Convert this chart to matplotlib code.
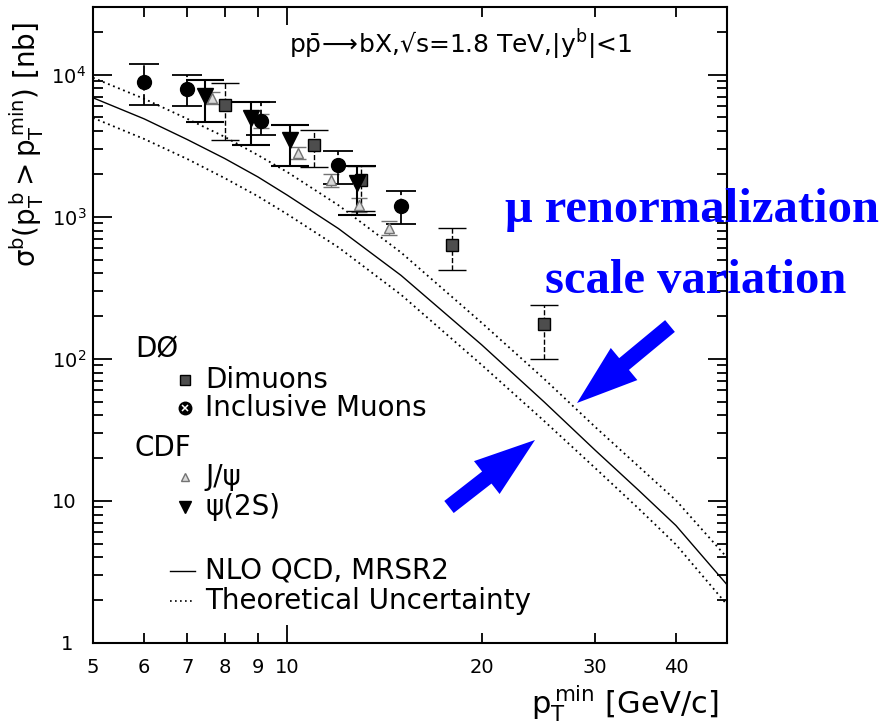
import matplotlib
matplotlib.use("Agg")
import matplotlib.pyplot as plt
from matplotlib.ticker import FixedLocator, FixedFormatter, NullFormatter
from matplotlib.patches import FancyArrowPatch

plt.rcParams['font.family'] = ['DejaVu Sans']
plt.rcParams['mathtext.fontset'] = 'dejavusans'

# D0 inclusive muons
mu_pt = [6.0, 7.0, 9.1, 12.0, 15.0]
mu_xs = [8900, 7960, 4700, 2310, 1190]
mu_hi = [11960, 10000, 6400, 2900, 1510]
mu_lo = [6140, 6040, 3770, 1700, 885]

# D0 dimuons
dimu_pt = [8.0, 11.0, 13.0, 18.0, 25.0]
dimu_xs = [6140, 3200, 1810, 629, 177]
dimu_hi = [8780, 4080, 2275, 829, 241]
dimu_lo = [3470, 2230, 1100, 419, 100]

# CDF J/psi
jpsi_pt = [7.65, 9.1, 10.4, 11.7, 12.9, 14.35]
jpsi_xs = [6900, 4730, 2810, 1810, 1206, 829]
jpsi_hi = [7600, 5300, 3100, 2000, 1350, 930]
jpsi_lo = [6200, 4200, 2550, 1620, 1080, 740]

# CDF psi(2S)
psi_pt = [7.45, 8.8, 10.1, 12.8]
psi_xs = [7100, 4970, 3470, 1725]
psi_hi = [9220, 6450, 4430, 2275]
psi_lo = [4650, 3200, 2275, 1025]

# NLO QCD (MRSR2) and the scale variation band
th_pt = [5, 6, 7, 8, 9, 10, 12, 15, 20, 25, 30, 35, 40, 48]
th_central = [6880, 4890, 3495, 2570, 1910, 1419, 826, 387, 125.6, 49.7, 22.7, 11.9, 6.71, 2.57]
th_upper = [9520, 6770, 4890, 3650, 2720, 2063, 1206, 561, 179.6, 72.2, 33.1, 17.5, 10.1, 3.99]
th_lower = [4970, 3530, 2550, 1870, 1396, 1042, 609, 283, 90.7, 36.5, 17.0, 8.85, 4.93, 1.86]


def errs(y, hi, lo):
    return [[a - b for a, b in zip(y, lo)], [b - a for a, b in zip(y, hi)]]


fig = plt.figure(figsize=(8.86, 7.23), dpi=100)
ax = fig.add_axes([0.105, 0.1107, 0.7156, 0.8797])
ax.set_xscale('log')
ax.set_yscale('log')
ax.set_xlim(5, 48)
ax.set_ylim(1, 3e4)

dot = (0, (1, 2))
ax.plot(th_pt, th_central, color='black', lw=1.0)
ax.plot(th_pt, th_upper, color='black', lw=1.3, ls=dot)
ax.plot(th_pt, th_lower, color='black', lw=1.3, ls=dot)

# data points
eb = ax.errorbar(jpsi_pt, jpsi_xs, yerr=errs(jpsi_xs, jpsi_hi, jpsi_lo), fmt='^',
                 ms=7, mfc='0.85', mec='0.45', mew=1, ecolor='0.45', elinewidth=1,
                 capsize=6, capthick=1)
eb[2][0].set_linestyle(':')
eb = ax.errorbar(dimu_pt, dimu_xs, yerr=errs(dimu_xs, dimu_hi, dimu_lo), fmt='s',
                 ms=8, mfc='0.3', mec='black', mew=1, ecolor='black', elinewidth=1,
                 capsize=10, capthick=1)
eb[2][0].set_linestyle('--')
eb = ax.errorbar(mu_pt, mu_xs, yerr=errs(mu_xs, mu_hi, mu_lo), fmt='o',
                 ms=10, mfc='black', mec='black', ecolor='black', elinewidth=1.3,
                 capsize=11, capthick=1.3)
eb[2][0].set_linestyle((0, (6, 2)))
ax.plot(mu_pt, mu_xs, 'x', ms=5, mec='white', mew=1.2, ls='none')
ax.errorbar(psi_pt, psi_xs, yerr=errs(psi_xs, psi_hi, psi_lo), fmt='v',
            ms=11, mfc='black', mec='black', ecolor='black', elinewidth=1.5,
            capsize=14, capthick=1.5)

# axes styling
for s in ax.spines.values():
    s.set_linewidth(1.5)
ax.xaxis.set_major_locator(FixedLocator([10]))
ax.xaxis.set_major_formatter(FixedFormatter(['10']))
ax.xaxis.set_minor_locator(FixedLocator([5, 6, 7, 8, 9, 20, 30, 40]))
ax.xaxis.set_minor_formatter(FixedFormatter(['5', '6', '7', '8', '9', '20', '30', '40']))
ax.yaxis.set_major_locator(FixedLocator([1, 10, 100, 1000, 10000]))
ax.yaxis.set_major_formatter(FixedFormatter(['1', '10', r'$\mathregular{10^{2}}$',
                                             r'$\mathregular{10^{3}}$',
                                             r'$\mathregular{10^{4}}$']))
ax.yaxis.set_minor_formatter(NullFormatter())
ax.tick_params(which='both', direction='in', top=True, right=True, labelsize=14, width=1.3)
ax.tick_params(axis='x', which='major', length=13, pad=11)
ax.tick_params(axis='x', which='minor', length=7, pad=11)
ax.tick_params(axis='y', which='major', length=14, pad=5)
ax.tick_params(axis='y', which='minor', length=7)
# superscripts hang past the plain labels, so "1" and "10" sit further left
yt = ax.yaxis.get_major_ticks()
yt[0].set_pad(14)
yt[1].set_pad(12)

ax.text(0.579, 0.94, r'$\mathregular{p\bar{p}\!\longrightarrow\!}$bX,√s=1.8 TeV,|y$^{\mathregular{b}}$|<1',
        transform=ax.transAxes, ha='center', va='center', fontsize=18)

fig.text(0.030, 0.80, r'$\mathregular{\sigma^{b}(p_{T}^{\,b} > p_{T}^{\,min})}$ [nb]',
         rotation=90, ha='center', va='center', fontsize=20)
fig.text(0.705, 0.027, r'$\mathregular{p_{T}^{\,min}}$ [GeV/c]', ha='center',
         va='center', fontsize=22)

# legend drawn by hand
fs = 20
ax.text(0.066, 0.461, 'DØ', transform=ax.transAxes, va='center', fontsize=fs)
ax.plot([0.145], [0.4135], 's', ms=7, mfc='0.3', mec='black', transform=ax.transAxes)
ax.text(0.177, 0.4135, 'Dimuons', transform=ax.transAxes, va='center', fontsize=fs)
ax.plot([0.145], [0.3695], 'o', ms=9, mfc='black', mec='black', transform=ax.transAxes)
ax.plot([0.145], [0.3695], 'x', ms=4, mec='white', mew=1.1, transform=ax.transAxes)
ax.text(0.177, 0.3695, 'Inclusive Muons', transform=ax.transAxes, va='center', fontsize=fs)
ax.text(0.066, 0.3066, 'CDF', transform=ax.transAxes, va='center', fontsize=fs)
ax.plot([0.145], [0.261], '^', ms=6, mfc='0.85', mec='0.45', transform=ax.transAxes)
ax.text(0.177, 0.261, 'J/ψ', transform=ax.transAxes, va='center', fontsize=fs)
ax.plot([0.145], [0.2138], 'v', ms=9, mfc='black', mec='black', transform=ax.transAxes)
ax.text(0.177, 0.2138, 'ψ(2S)', transform=ax.transAxes, va='center', fontsize=fs)
ax.plot([0.121, 0.161], [0.1132, 0.1132], color='black', lw=1, transform=ax.transAxes)
ax.text(0.177, 0.1132, 'NLO QCD, MRSR2', transform=ax.transAxes, va='center', fontsize=fs)
ax.plot([0.121, 0.161], [0.066, 0.066], color='black', lw=1.2, ls=dot, transform=ax.transAxes)
ax.text(0.177, 0.066, 'Theoretical Uncertainty', transform=ax.transAxes, va='center', fontsize=fs)

# blue annotation
blue = '#0000ff'
fig.text(505 / 886, 1 - 222 / 723, 'μ renormalization', color=blue, fontsize=35,
         fontweight='bold', family='Liberation Serif', ha='left', va='baseline')
fig.text(545 / 886, 1 - 293 / 723, 'scale variation', color=blue, fontsize=35,
         fontweight='bold', family='Liberation Serif', ha='left', va='baseline')

style = 'simple,head_length=44,head_width=30,tail_width=11'
for tail, tip in [((670, 326), (577, 403)), ((449, 507), (535, 440))]:
    arr = FancyArrowPatch((tail[0] / 886, 1 - tail[1] / 723), (tip[0] / 886, 1 - tip[1] / 723),
                          transform=fig.transFigure, arrowstyle=style, color=blue,
                          shrinkA=0, shrinkB=0, lw=0)
    fig.patches.append(arr)

fig.savefig('out.png', dpi=100)
